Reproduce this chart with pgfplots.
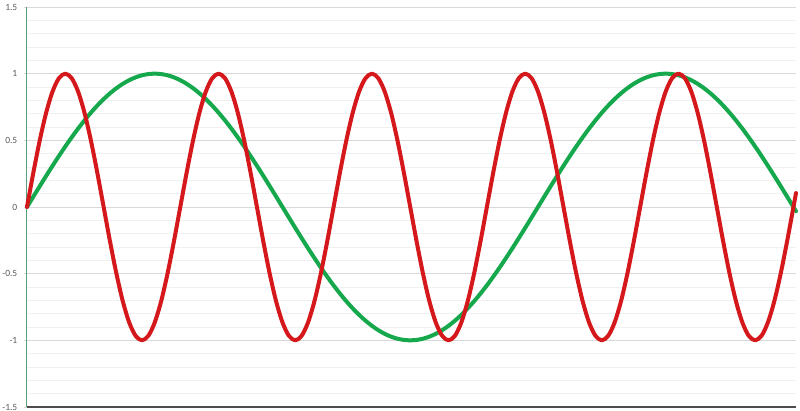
\documentclass[border=0pt]{standalone}
\usepackage{fontspec}
\setmainfont{Carlito}
\usepackage{pgfplots}
\usepackage{pgfplotstable}
\pgfplotsset{compat=1.18}

\definecolor{redline}{RGB}{212,24,28}
\definecolor{greenline}{RGB}{22,168,76}
\definecolor{ticktext}{RGB}{89,89,89}
\definecolor{majorgrid}{RGB}{217,217,217}
\definecolor{minorgrid}{RGB}{240,240,240}
\definecolor{yaxisline}{RGB}{90,160,120}

% k = sample index, g = slow wave, r = fast wave
\pgfplotstableread{
k g r
0 0 0
1 0.0785 0.2588
2 0.1564 0.5
3 0.2334 0.7071
4 0.3090 0.8660
5 0.3827 0.9659
6 0.4540 1
7 0.5225 0.9659
8 0.5878 0.8660
9 0.6494 0.7071
10 0.7071 0.5
11 0.7604 0.2588
12 0.8090 0
13 0.8526 -0.2588
14 0.8910 -0.5
15 0.9239 -0.7071
16 0.9511 -0.8660
17 0.9724 -0.9659
18 0.9877 -1
19 0.9969 -0.9659
20 1 -0.8660
21 0.9969 -0.7071
22 0.9877 -0.5
23 0.9724 -0.2588
24 0.9511 0
25 0.9239 0.2588
26 0.8910 0.5
27 0.8526 0.7071
28 0.8090 0.8660
29 0.7604 0.9659
30 0.7071 1
31 0.6494 0.9659
32 0.5878 0.8660
33 0.5225 0.7071
34 0.4540 0.5
35 0.3827 0.2588
36 0.3090 0
37 0.2334 -0.2588
38 0.1564 -0.5
39 0.0785 -0.7071
40 0 -0.8660
41 -0.0785 -0.9659
42 -0.1564 -1
43 -0.2334 -0.9659
44 -0.3090 -0.8660
45 -0.3827 -0.7071
46 -0.4540 -0.5
47 -0.5225 -0.2588
48 -0.5878 0
49 -0.6494 0.2588
50 -0.7071 0.5
51 -0.7604 0.7071
52 -0.8090 0.8660
53 -0.8526 0.9659
54 -0.8910 1
55 -0.9239 0.9659
56 -0.9511 0.8660
57 -0.9724 0.7071
58 -0.9877 0.5
59 -0.9969 0.2588
60 -1 0
61 -0.9969 -0.2588
62 -0.9877 -0.5
63 -0.9724 -0.7071
64 -0.9511 -0.8660
65 -0.9239 -0.9659
66 -0.8910 -1
67 -0.8526 -0.9659
68 -0.8090 -0.8660
69 -0.7604 -0.7071
70 -0.7071 -0.5
71 -0.6494 -0.2588
72 -0.5878 0
73 -0.5225 0.2588
74 -0.4540 0.5
75 -0.3827 0.7071
76 -0.3090 0.8660
77 -0.2334 0.9659
78 -0.1564 1
79 -0.0785 0.9659
80 0 0.8660
81 0.0785 0.7071
82 0.1564 0.5
83 0.2334 0.2588
84 0.3090 0
85 0.3827 -0.2588
86 0.4540 -0.5
87 0.5225 -0.7071
88 0.5878 -0.8660
89 0.6494 -0.9659
90 0.7071 -1
91 0.7604 -0.9659
92 0.8090 -0.8660
93 0.8526 -0.7071
94 0.8910 -0.5
95 0.9239 -0.2588
96 0.9511 0
97 0.9724 0.2588
98 0.9877 0.5
99 0.9969 0.7071
100 1 0.8660
101 0.9969 0.9659
102 0.9877 1
103 0.9724 0.9659
104 0.9511 0.8660
105 0.9239 0.7071
106 0.8910 0.5
107 0.8526 0.2588
108 0.8090 0
109 0.7604 -0.2588
110 0.7071 -0.5
111 0.6494 -0.7071
112 0.5878 -0.8660
113 0.5225 -0.9659
114 0.4540 -1
115 0.3827 -0.9659
116 0.3090 -0.8660
117 0.2334 -0.7071
118 0.1564 -0.5
119 0.0785 -0.2588
120 0 0
120.4 -0.0314 0.1045
}\waves

\begin{document}
\begin{tikzpicture}
\begin{axis}[
    scale only axis,
    width=769pt, height=400pt,
    xmin=0, xmax=120.4,
    ymin=-1.5, ymax=1.5,
    axis x line=bottom,
    axis y line=left,
    x axis line style={-, draw=black!70, line width=1.6pt},
    y axis line style={-, draw=yaxisline, line width=1pt},
    xtick=\empty,
    ytick={-1.5,-1,-0.5,0,0.5,1,1.5},
    minor y tick num=4,
    ymajorgrids, yminorgrids,
    major grid style={draw=majorgrid, line width=0.8pt},
    minor grid style={draw=minorgrid, line width=0.8pt},
    tick align=outside,
    major tick length=3.5pt,
    minor tick length=0pt,
    y tick style={draw=majorgrid, line width=0.8pt},
    /pgf/number format/assume math mode=true,
    yticklabel style={font=\fontsize{9.5}{10}\selectfont, text=ticktext, inner sep=0pt, xshift=-6pt},
    clip=false,
]
\addplot[greenline, line width=4pt, smooth, line join=round, line cap=round] table[x=k, y=g] {\waves};
\addplot[redline, line width=4pt, smooth, line join=round, line cap=round] table[x=k, y=r] {\waves};
\end{axis}
\pgfresetboundingbox
\path[use as bounding box] (-27pt,-4pt) rectangle (773pt,407pt);
\end{tikzpicture}
\end{document}
